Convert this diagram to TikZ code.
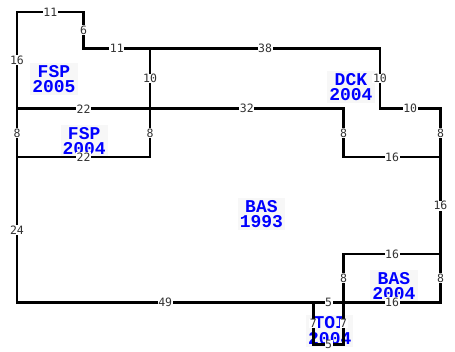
\documentclass[tikz,border=0pt]{standalone}
\usepackage{fontspec}
\newfontfamily\dimfont{DejaVu Sans Mono}
\newfontfamily\tagfont{Liberation Mono}
\usetikzlibrary{positioning}

\tikzset{
	wall/.style={line width=2.6pt, line cap=rect},
	dim/.style={fill=white, text=black!80, inner sep=0.6pt,
			font=\dimfont\fontsize{11.5}{12}\selectfont},
	area/.style={fill=black!3, text=blue, align=center, inner sep=2pt,
			font=\tagfont\bfseries\fontsize{18}{15.5}\selectfont}
}

\begin{document}
\begin{tikzpicture}[x=6.05pt, y=6.05pt]
				\useasboundingbox (-2.81, 1.98) rectangle (72.40, -56.20);

				% areas
				\node[area] (fsp05) at (6.1, -11.1) {FSP\\2005};
				\node[area] (fsp04) at (11.1, -21.3) {FSP\\2004};
				\node[area] (dck04) at (55.2, -12.4) {DCK\\2004};
				\node[area] (bas93) at (40.4, -33.4) {BAS\\1993};
				\node[area] (bas04) at (62.3, -45.3) {BAS\\2004};
				\node[area] (toi04) at (51.7, -52.7) {TOI\\2004};

				% walls
				\draw[wall] (0, 0) -- node[dim] {11} (11, 0);
				\draw[wall] (11, 0) -- node[dim] {6} (11, -6);
				\draw[wall] (11, -6) -- node[dim] {11} (22, -6);
				\draw[wall] (22, -6) -- node[dim] {38} (60, -6);
				\draw[wall] (0, 0) -- node[dim] {16} (0, -16);
				\draw[wall] (22, -6) -- node[dim] {10} (22, -16);
				\draw[wall] (0, -16) -- node[dim] {22} (22, -16);
				\draw[wall] (22, -16) -- node[dim] {32} (54, -16);
				\draw[wall] (0, -16) -- node[dim] {8} (0, -24);
				\draw[wall] (22, -16) -- node[dim] {8} (22, -24);
				\draw[wall] (0, -24) -- node[dim] {22} (22, -24);
				\draw[wall] (0, -24) -- node[dim] {24} (0, -48);

				\draw[wall] (60, -6) -- node[dim] {10} (60, -16);
				\draw[wall] (60, -16) -- node[dim] {10} (70, -16);
				\draw[wall] (70, -16) -- node[dim] {8} (70, -24);
				\draw[wall] (54, -16) -- node[dim] {8} (54, -24);
				\draw[wall] (54, -24) -- node[dim] {16} (70, -24);
				\draw[wall] (70, -24) -- node[dim] {16} (70, -40);
				\draw[wall] (54, -40) -- node[dim] {16} (70, -40);
				\draw[wall] (54, -40) -- node[dim] {8} (54, -48);
				\draw[wall] (70, -40) -- node[dim] {8} (70, -48);
				\draw[wall] (54, -48) -- node[dim] {16} (70, -48);

				\draw[wall] (0, -48) -- node[dim] {49} (49, -48);
				\draw[wall] (49, -48) -- node[dim] {5} (54, -48);
				\draw[wall] (49, -48) -- node[dim] {7} (49, -55);
				\draw[wall] (54, -48) -- node[dim] {7} (54, -55);
				\draw[wall] (49, -55) -- node[dim] {5} (54, -55);
			\end{tikzpicture}
\end{document}
